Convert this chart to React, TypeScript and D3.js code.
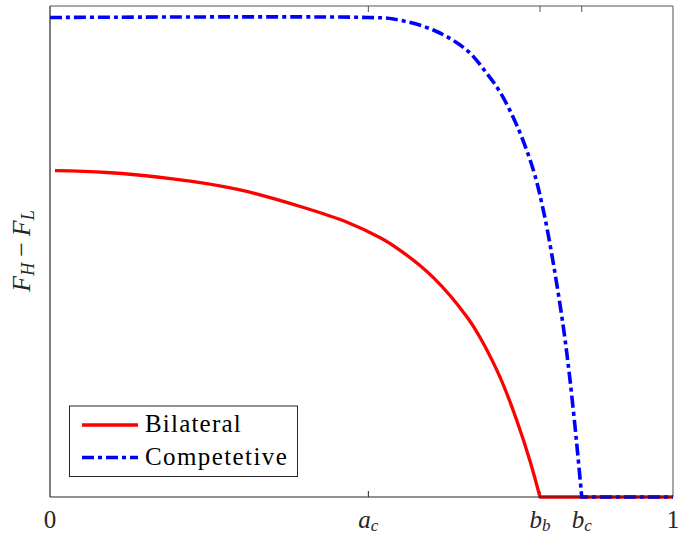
import React from "react";
import * as d3 from "d3";

// Bilateral curve (until it hits zero at b_b), then flat at zero until 1
const bilateralX = [0.008, 0.091, 0.197, 0.305, 0.407, 0.476, 0.530, 0.562, 0.615, 0.669, 0.6955, 0.722, 0.749, 0.7705, 0.7865];
const bilateralY = [0.6646, 0.6609, 0.6481, 0.6255, 0.5896, 0.5601, 0.5281, 0.5024, 0.4473, 0.3672, 0.313, 0.245, 0.1568, 0.0733, 0.0];

// Competitive curve (flat until a_c, then falls to zero at b_c), then flat at zero until 1
const competitiveX = [0.0, 0.511, 0.551, 0.6152, 0.6688, 0.701, 0.7223, 0.7491, 0.7758, 0.7918, 0.8079, 0.8239, 0.8347, 0.8454, 0.8535];
const competitiveY = [0.9766, 0.9766, 0.9735, 0.9511, 0.9104, 0.8629, 0.8248, 0.7576, 0.666, 0.5845, 0.476, 0.3468, 0.2383, 0.1094, 0.0];

const xEnd = 1;
const tickValues = [0, 0.511, 0.7865, 0.8535, 1];
const tickLabels = [
  { main: "0", sub: "" },
  { main: "a", sub: "c" },
  { main: "b", sub: "b" },
  { main: "b", sub: "c" },
  { main: "1", sub: "" },
];
const seriesNames = ["Bilateral", "Competetive"];

const W = 679;
const H = 535;
const left = 50;
const right = 673;
const top = 6;
const bottom = 497;

export default function App() {
  const x = d3.scaleLinear().domain([0, 1]).range([left, right]);
  const y = d3.scaleLinear().domain([0, 1]).range([bottom, top]);
  const redCurve = d3
    .line<[number, number]>()
    .x((d) => x(d[0]))
    .y((d) => y(d[1]))
    .curve(d3.curveNatural);
  const blueCurve = d3
    .line<[number, number]>()
    .x((d) => x(d[0]))
    .y((d) => y(d[1]))
    .curve(d3.curveCatmullRom.alpha(0.5));
  const straight = d3
    .line<[number, number]>()
    .x((d) => x(d[0]))
    .y((d) => y(d[1]));
  const redPts = bilateralX.map((v, i) => [v, bilateralY[i]] as [number, number]);
  const bluePts = competitiveX.map((v, i) => [v, competitiveY[i]] as [number, number]);
  const redTail: [number, number][] = [redPts[redPts.length - 1], [xEnd, 0]];
  const blueTail: [number, number][] = [bluePts[bluePts.length - 1], [xEnd, 0]];
  const redD = (redCurve(redPts) || "") + (straight(redTail) || "").replace(/^M[^L]*/, "");
  const blueD = (blueCurve(bluePts) || "") + (straight(blueTail) || "").replace(/^M[^L]*/, "");
  const font = "'Liberation Serif', 'Times New Roman', serif";
  const dash = "12,4,4,4";

  return (
    <svg
      width={W}
      height={H}
      style={{ position: "absolute", left: 0, top: 0, background: "#fff" }}
    >
      <rect x={0} y={0} width={W} height={H} fill="#fff" />
      {/* box */}
      <line x1={left} x2={right} y1={top} y2={top} stroke="#8c8c8c" strokeWidth={1.5} />
      <line x1={right} x2={right} y1={top} y2={bottom} stroke="#8c8c8c" strokeWidth={1.5} />
      {/* ticks */}
      {tickValues.slice(1, 4).map((t, i) => (
        <g key={i}>
          <line x1={x(t)} x2={x(t)} y1={bottom} y2={bottom - 6} stroke="#262626" strokeWidth={1} />
          <line x1={x(t)} x2={x(t)} y1={top} y2={top + 6} stroke="#555" strokeWidth={1} />
        </g>
      ))}
      {/* curves */}
      <path d={redD} fill="none" stroke="#ff0000" strokeWidth={3.3} strokeLinejoin="round" />
      <path d={blueD} fill="none" stroke="#0000ff" strokeWidth={3.6} strokeDasharray={dash} />
      <line x1={left} x2={right} y1={bottom} y2={bottom} stroke="#262626" strokeWidth={1.2} />
      <line x1={left} x2={left} y1={top} y2={bottom} stroke="#262626" strokeWidth={1.2} />
      {/* tick labels */}
      {tickValues.map((t, i) => (
        <text
          key={i}
          x={x(t)}
          y={528}
          textAnchor="middle"
          fontFamily={font}
          fontSize={25}
          fill="#262626"
          fontStyle={tickLabels[i].sub ? "italic" : "normal"}
        >
          {tickLabels[i].main}
          {tickLabels[i].sub && (
            <tspan fontSize={17} dy={3}>
              {tickLabels[i].sub}
            </tspan>
          )}
        </text>
      ))}
      {/* y label */}
      <text
        transform={`translate(30,251) rotate(-90)`}
        textAnchor="middle"
        fontFamily={font}
        fontSize={26}
        fill="#262626"
        fontStyle="italic"
      >
        F<tspan fontSize={18} dy={4}>H</tspan>
        <tspan dy={-4} dx={6} fontStyle="normal">−</tspan>
        <tspan dx={6}>F</tspan>
        <tspan fontSize={18} dy={4}>L</tspan>
      </text>
      {/* legend */}
      <rect x={69.5} y={406} width={228} height={70.5} fill="#fff" stroke="#262626" strokeWidth={1} />
      <line x1={82} x2={138} y1={425} y2={425} stroke="#ff0000" strokeWidth={3.3} />
      <line x1={82} x2={138} y1={457.5} y2={457.5} stroke="#0000ff" strokeWidth={3.6} strokeDasharray={dash} />
      <text x={145} y={432} fontFamily={font} fontSize={25} letterSpacing={1.2} fill="#000">
        {seriesNames[0]}
      </text>
      <text x={145} y={464.5} fontFamily={font} fontSize={25} letterSpacing={1.4} fill="#000">
        {seriesNames[1]}
      </text>
    </svg>
  );
}
